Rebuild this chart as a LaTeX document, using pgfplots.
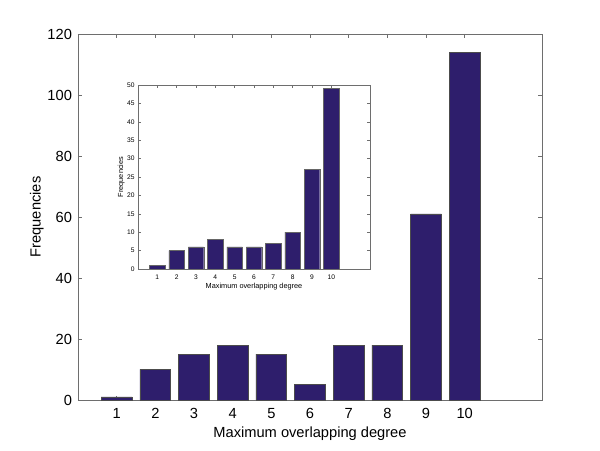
\documentclass[border=0pt]{standalone}
\usepackage{pgfplots}
\pgfplotsset{compat=1.18}
\usepackage{fontspec}
\setmainfont{Liberation Sans}
\definecolor{barc}{RGB}{46,30,108}
\definecolor{axc}{RGB}{110,110,110}
\begin{document}
\begin{tikzpicture}
\path (0pt,0pt) rectangle (450pt,337.5pt);
\begin{axis}[
  at={(58.5pt,37.5pt)}, anchor=south west,
  scale only axis, width=348pt, height=274.5pt,
  xmin=0, xmax=12, ymin=0, ymax=120,
  xtick={1,...,10}, ytick={0,20,...,120},
  tick align=inside, major tick length=3pt,
  axis line style={axc}, every tick/.style={axc},
  tick label style={font=\fontsize{11}{13}\selectfont},
  /pgf/number format/assume math mode=true,
  xlabel={Maximum overlapping degree},
  ylabel={Frequencies},
  label style={font=\fontsize{11}{13}\selectfont},
  xlabel style={yshift=1pt},
  ylabel style={yshift=-4pt},
  xticklabel style={yshift=-3pt},
  yticklabel style={xshift=-1pt},
]
\addplot[ybar, bar width=0.8, fill=barc, draw=black!70, line width=0.5pt] coordinates {
(1,1) (2,10) (3,15) (4,18) (5,15) (6,5) (7,18) (8,18) (9,61) (10,114)};
\end{axis}
\begin{axis}[
  at={(103.5pt,135.75pt)}, anchor=south west,
  scale only axis, width=174pt, height=138pt,
  axis background/.style={fill=white},
  xmin=0, xmax=12, ymin=0, ymax=50,
  xtick={1,...,10}, ytick={0,5,...,50},
  tick align=inside, major tick length=2.2pt,
  axis line style={axc}, every tick/.style={axc},
  tick label style={font=\fontsize{5}{6}\selectfont},
  /pgf/number format/assume math mode=true,
  xlabel={Maximum overlapping degree},
  ylabel={Frequencies},
  label style={font=\fontsize{5.5}{6.5}\selectfont},
  xlabel style={yshift=4pt},
  ylabel style={yshift=-5pt},
  xticklabel style={yshift=-1pt},
  yticklabel style={xshift=1pt},
]
\addplot[ybar, bar width=0.8, fill=barc, draw=black!60, line width=0.3pt] coordinates {
(1,1) (2,5) (3,6) (4,8) (5,6) (6,6) (7,7) (8,10) (9,27) (10,49)};
\end{axis}
\end{tikzpicture}
\end{document}
